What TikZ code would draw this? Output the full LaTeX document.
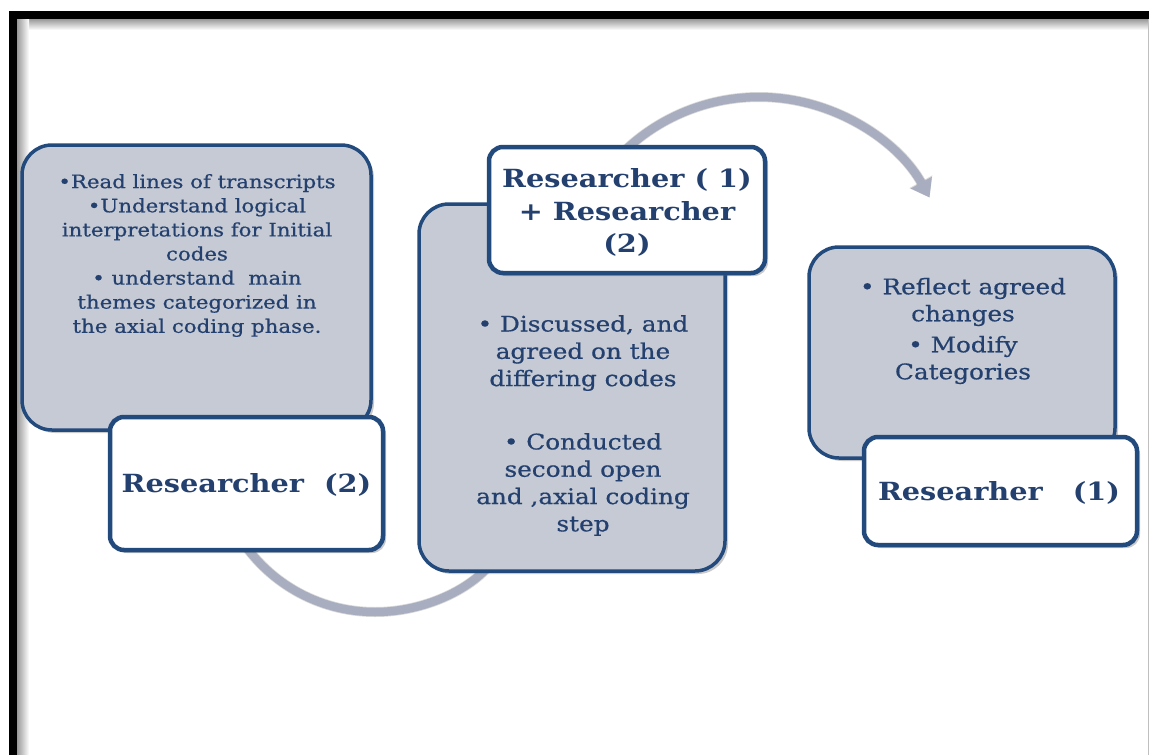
\documentclass[tikz,border=0pt]{standalone}
\usepackage{fontspec}
\setmainfont[FakeStretch=1.15]{DejaVu Serif}
\newfontfamily\bodyfont[FakeStretch=1.15,FakeBold=0.6]{DejaVu Serif}
\usetikzlibrary{arrows.meta,shadows}
\definecolor{boxgray}{HTML}{C5CAD4}
\definecolor{boxline}{HTML}{234A7C}
\definecolor{txtblue}{HTML}{23406F}
\definecolor{arcgray}{HTML}{A8AEBF}
\begin{document}
\begin{tikzpicture}[x=1pt,y=-1pt,
  graybox/.style={draw=boxline, line width=3.5pt, fill=boxgray, rounded corners=30pt,
    drop shadow={shadow xshift=3pt, shadow yshift=-3pt, opacity=0.35, fill=black!60}},
  whitebox/.style={draw=boxline, line width=4.5pt, fill=white, rounded corners=14pt,
    drop shadow={shadow xshift=3pt, shadow yshift=-3pt, opacity=0.35, fill=black!60}},
  bodytxt/.style={text=txtblue, align=center, inner sep=0pt},
  titletxt/.style={text=txtblue, align=center, inner sep=0pt, font=\bfseries\fontsize{25}{32.5}\selectfont},
  arcline/.style={draw=arcgray, line width=8.5pt, -{Triangle[width=23pt,length=17pt]}},
  arcshadow/.style={draw=black, opacity=0.15, line width=10pt, -{Triangle[width=25pt,length=18pt]}}
]
\useasboundingbox (0,0) rectangle (1149,755);
% frame
\shade[top color=black!40, bottom color=white] (17,19) rectangle (1149,30);
\shade[left color=black!40, right color=white] (17,19) rectangle (29,755);
\fill[black] (9,11) rectangle (1149,19);
\fill[black] (9,11) rectangle (17,755);
\draw[black!25, line width=1pt] (1148,19) -- (1148,755);

% arc coordinates
\coordinate (b1) at (236.4,532);
\coordinate (t1) at (609.6,166.7);

% connectors (behind boxes)
\draw[arcshadow, shift={(2,4)}] (b1) arc[start angle=150, end angle=38, radius=160];
\draw[arcline] (b1) arc[start angle=150, end angle=38, radius=160];
\draw[arcshadow, shift={(2,4)}] (t1) arc[start angle=-140, end angle=-29, radius=195];
\draw[arcline] (t1) arc[start angle=-140, end angle=-29, radius=195];

% box 1
\node[graybox, minimum width=349pt, minimum height=285pt] (g1) at (196.5,287.5) {};
\node[bodytxt, font=\bodyfont\fontsize{18.5}{24.1}\selectfont] (g1t) at (197,255.5)
  {•Read lines of transcripts\\ •Understand logical\\ interpretations for Initial\\ codes\\ • understand\ \ main\\ themes categorized in\\ the axial coding phase.};
\node[whitebox, minimum width=273pt, minimum height=133pt] (w1) at (246.5,483.5) {};
\node[titletxt] (w1t) at (246.5,485) {Researcher\ \ (2)};

% box 2
\node[graybox, minimum width=306pt, minimum height=367pt] (g2) at (572,387.5) {};
\node[bodytxt, font=\bodyfont\fontsize{21.5}{27.3}\selectfont] (g2t) at (583,425.5)
  {• Discussed, and\\ agreed on the\\ differing codes\\[36pt] • Conducted\\ second open\\ and ,axial coding\\ step};
\node[whitebox, minimum width=276pt, minimum height=126pt] (w2) at (627,210) {};
\node[titletxt] (w2t) at (627,212.5) {Researcher ( 1)\\ + Researcher\\ (2)};

% box 3
\node[graybox, minimum width=306pt, minimum height=211pt] (g3) at (962,352.5) {};
\node[bodytxt, font=\bodyfont\fontsize{21.5}{27}\selectfont] (g3t) at (963,331)
  {• Reflect agreed\\ changes\\[4pt] • Modify\\ Categories};
\node[whitebox, minimum width=273pt, minimum height=108pt] (w3) at (1000.5,491) {};
\node[titletxt] (w3t) at (999,492.5) {Researher\ \ \ (1)};
\end{tikzpicture}
\end{document}
